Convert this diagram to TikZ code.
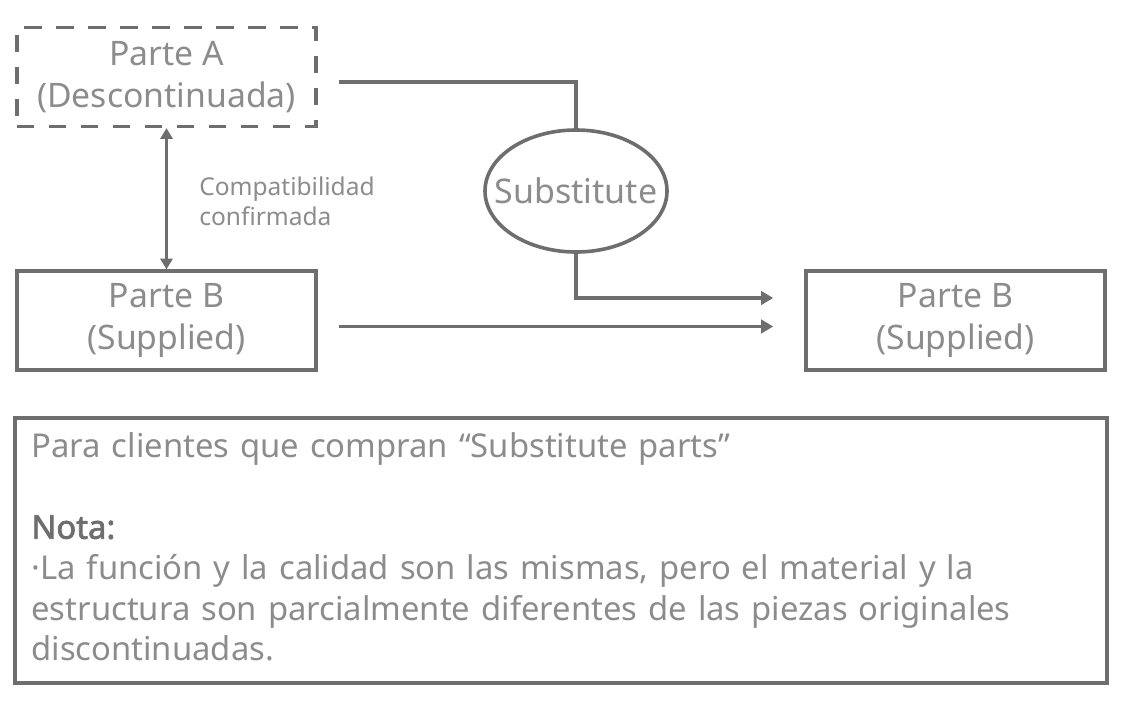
\documentclass[tikz,border=0pt]{standalone}
\usepackage{fontspec}
\setmainfont{Noto Sans}
\newfontfamily\nbold{Noto Sans}[FakeBold=2.2]
\usetikzlibrary{arrows.meta,calc,shapes.geometric}
\definecolor{ln}{HTML}{6E6E6E}
\definecolor{tx}{HTML}{8C8C8C}
\definecolor{txd}{HTML}{6E6E6E}
\begin{document}
\begin{tikzpicture}[x=0.75pt,y=-0.75pt,
  box/.style={draw=ln,line width=2.7pt,minimum width=224.25pt,minimum height=74pt,inner sep=0pt,align=center,text=tx,font=\fontsize{25.3}{31}\selectfont},
  dbox/.style={box,dash pattern=on 13pt off 11pt},
  oval/.style={ellipse,draw=ln,line width=2.7pt,minimum width=136.5pt,minimum height=91.5pt,inner sep=0pt,text=tx,font=\fontsize{25.5}{30}\selectfont},
  conn/.style={draw=ln,line width=2.4pt},
  arr/.style={conn,-{Triangle[length=9pt,width=10pt]}},
  darr/.style={conn,{Triangle[length=8pt,width=9pt]}-{Triangle[length=8pt,width=9pt]}},
  lbl/.style={text=tx,align=left,inner sep=0pt,font=\fontsize{18.4}{22.5}\selectfont},
  notebox/.style={draw=ln,line width=2.7pt,minimum width=819pt,minimum height=198.75pt,inner sep=0pt},
  notetext/.style={text=tx,align=left,inner sep=0pt,text width=810pt,font=\fontsize{24.6}{30.5}\selectfont}
]
\useasboundingbox (0,0) rectangle (1130,700);
\node[dbox] (pa) at (166.5,77) {Parte A\\(Descontinuada)};
\node[box] (pbl) at (166.5,320.5) {Parte B\\(Supplied)};
\node[box] (pbr) at (955.5,320.5) {Parte B\\(Supplied)};
\node[oval] (sub) at (576,191) {\makebox[0pt]{Substitute}};
\node[lbl,anchor=west] (lab) at (199,201) {Compatibilidad\\confirmada};
\node[notebox] (nb) at (561,550.5) {};
\node[notetext,anchor=north west] (nt) at ($(nb.north west)+(18,16)$) {Para clientes que compran “Substitute parts”\\[30.5pt]
{\color{txd}\nbold Nota:}\\
·La función y la calidad son las mismas, pero el material y la\\
estructura son parcialmente diferentes de las piezas originales\\
discontinuadas.};
\draw[darr] (pa.south) -- (pbl.north);
\draw[conn] ($(pa.east)+(21,5)$) -| (sub.north);
\draw[arr] (sub.south) |- ($(pbr.west)+(-31,-22.5)$);
\draw[arr] ($(pbl.east)+(21,6)$) -- ($(pbr.west)+(-31,6)$);
\end{tikzpicture}
\end{document}
